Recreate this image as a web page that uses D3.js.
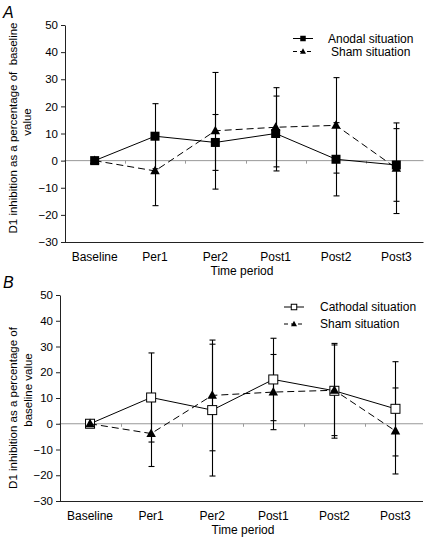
<!DOCTYPE html>
<html>
<head>
<meta charset="utf-8">
<script src="https://cdn.jsdelivr.net/npm/d3@7"></script>
<style>
  html, body { margin: 0; padding: 0; background: #fff; }
  svg { display: block; font-family: "Liberation Sans", Arial, sans-serif; }
</style>
</head>
<body>
<svg id="chart" width="427" height="539"></svg>
<script>
// ---- data ----
const categories = ["Baseline", "Per1", "Per2", "Post1", "Post2", "Post3"];
const yTicks = [-30, -20, -10, 0, 10, 20, 30, 40, 50];

const anodalMean = [0, 9, 6.7, 10, 0.5, -1.6];
const anodalErr  = [0, 12, 10.3, 13.8, 13.5, 13.4];

const shamMean   = [0, -3.8, 11, 12.3, 13, -2.8];
const shamErr    = [0, 12.8, 21.5, 14.6, 17.6, 16.7];

const cathodalMean = [0, 10.2, 5.3, 17.2, 12.8, 5.8];
const cathodalErr  = [0, 17.3, 25.6, 16, 18.4, 18.3];

const panelLabels = ["A", "B"];
const xTitle = "Time period";
const yTitleA = ["D1 inhibition as a percentage of  baseline", "value"];
const yTitleB = ["D1 inhibition as a percentage of", "baseline value"];
const legendA = ["Anodal situation", "Sham situation"];
const legendB = ["Cathodal situation", "Sham situation"];

// ---- drawing ----
const svg = d3.select("#chart");

function marker(g, type, cx, cy, size) {
  if (type === "square") {
    g.append("rect").attr("x", cx - size / 2).attr("y", cy - size / 2)
      .attr("width", size).attr("height", size).attr("fill", "#000");
  } else if (type === "open") {
    g.append("rect").attr("x", cx - size / 2).attr("y", cy - size / 2)
      .attr("width", size).attr("height", size).attr("fill", "#fff")
      .attr("stroke", "#000").attr("stroke-width", 1);
  } else {
    const h = size * 0.9;
    g.append("path")
      .attr("d", `M${cx},${cy - h * 0.6}L${cx + size / 2},${cy + h * 0.4}L${cx - size / 2},${cy + h * 0.4}Z`)
      .attr("fill", "#000");
  }
}

function drawPanel(p) {
  const g = svg.append("g");
  const x = d3.scaleBand().domain(categories).range([p.left, p.right]).paddingInner(0).paddingOuter(0);
  const y = d3.scaleLinear().domain([-30, 50]).range([p.bottom, p.top]);

  // panel letter
  g.append("text").attr("x", 3).attr("y", p.letterY).attr("font-size", 16)
    .attr("font-style", "italic").attr("fill", "#000").text(p.letter);

  // zero line (category axis crossing) with ticks at band boundaries
  const zy = y(0);
  g.append("line").attr("x1", p.left).attr("x2", p.right - 3)
    .attr("y1", zy).attr("y2", zy).attr("stroke", "#999").attr("stroke-width", 1);
  categories.forEach((c, i) => {
    if (i === 0) return;
    const bx = Math.round(x(c)) + 0.5;
    g.append("line").attr("x1", bx).attr("x2", bx).attr("y1", zy).attr("y2", zy + 3)
      .attr("stroke", "#999");
  });

  // bottom line
  g.append("line").attr("x1", p.left).attr("x2", p.right - 3)
    .attr("y1", p.bottom + 0.5).attr("y2", p.bottom + 0.5).attr("stroke", "#222").attr("stroke-width", 1);

  // y axis
  const ya = g.append("g").attr("transform", `translate(${p.left + 0.5},0)`)
    .call(d3.axisLeft(y).tickValues(yTicks).tickSize(4).tickPadding(3).tickSizeOuter(0));
  ya.select(".domain").attr("stroke", "#222");
  ya.selectAll(".tick line").attr("stroke", "#222");
  ya.selectAll("text").attr("font-size", 11.5).attr("fill", "#000")
    .attr("font-family", "Liberation Sans, Arial, sans-serif");

  // category labels
  g.append("g").selectAll("text").data(categories).join("text")
    .attr("x", d => x(d) + x.bandwidth() / 2).attr("y", p.bottom + 19)
    .attr("text-anchor", "middle").attr("font-size", 12).attr("fill", "#000").text(d => d);

  // x title
  g.append("text").attr("x", p.xTitleX).attr("y", p.bottom + 33)
    .attr("text-anchor", "middle").attr("font-size", 12).attr("fill", "#000").text(xTitle);

  // y title lines
  p.yTitle.forEach((t, i) => {
    const pos = p.yTitlePos[i];
    g.append("text").attr("transform", `translate(${pos[0]},${pos[1]}) rotate(-90)`)
      .attr("text-anchor", "middle").attr("dy", "0.35em").attr("font-size", 11.5)
      .style("white-space", "pre").attr("fill", "#000").text(t);
  });

  const cx = d => x(d) + x.bandwidth() / 2;

  // error bars
  p.series.forEach(s => {
    const eg = g.append("g");
    categories.forEach((c, i) => {
      if (s.err[i] <= 0) return;
      const xx = Math.round(cx(c)) + 0.5;
      const y1 = y(s.mean[i] + s.err[i]), y2 = y(s.mean[i] - s.err[i]);
      eg.append("line").attr("x1", xx).attr("x2", xx).attr("y1", y1).attr("y2", y2)
        .attr("stroke", "#000").attr("stroke-width", 1.1);
      [y1, y2].forEach(yy => eg.append("line").attr("x1", xx - 3).attr("x2", xx + 3)
        .attr("y1", yy).attr("y2", yy).attr("stroke", "#000").attr("stroke-width", 1.1));
    });
  });

  // lines and markers
  p.series.forEach(s => {
    const line = d3.line().x((d, i) => cx(categories[i])).y(d => y(d));
    g.append("path").datum(s.mean).attr("d", line).attr("fill", "none")
      .attr("stroke", "#000").attr("stroke-width", 1)
      .attr("stroke-dasharray", s.dash ? "7,4" : null);
    const mg = g.append("g");
    s.mean.forEach((v, i) => marker(mg, s.marker, cx(categories[i]), y(v), s.marker === "tri" ? 9.5 : 9));
  });

  // legend
  p.legend.forEach((l, i) => {
    const s = p.series.find(ss => ss.name === l.name);
    const ly = l.y;
    g.append("line").attr("x1", p.legendX).attr("x2", p.legendX + 20).attr("y1", ly).attr("y2", ly)
      .attr("stroke", "#000").attr("stroke-dasharray", s.dash ? "4,3" : null);
    marker(g, s.marker, p.legendX + 10, ly, s.marker === "tri" ? 6 : 5.5);
    g.append("text").attr("x", l.tx).attr("y", ly).attr("dy", "0.35em")
      .attr("font-size", 12).attr("fill", "#000").text(l.label);
  });
}

drawPanel({
  letter: panelLabels[0], letterY: 18,
  left: 64.5, right: 426.5, top: 25, bottom: 242,
  xTitleX: 242,
  yTitle: yTitleA, yTitlePos: [[13, 128], [27, 122]],
  legendX: 293,
  series: [
    { name: "sham", mean: shamMean, err: shamErr, marker: "tri", dash: true },
    { name: "anodal", mean: anodalMean, err: anodalErr, marker: "square", dash: false }
  ],
  legend: [
    { name: "anodal", label: legendA[0], y: 38.5, tx: 328 },
    { name: "sham", label: legendA[1], y: 51.5, tx: 331 }
  ]
});

drawPanel({
  letter: panelLabels[1], letterY: 288,
  left: 59.5, right: 426, top: 295, bottom: 501,
  xTitleX: 243,
  yTitle: yTitleB, yTitlePos: [[13, 408], [28, 390]],
  legendX: 284,
  series: [
    { name: "cathodal", mean: cathodalMean, err: cathodalErr, marker: "open", dash: false },
    { name: "sham", mean: shamMean, err: shamErr, marker: "tri", dash: true }
  ],
  legend: [
    { name: "cathodal", label: legendB[0], y: 307, tx: 320 },
    { name: "sham", label: legendB[1], y: 324, tx: 320 }
  ]
});
</script>
</body>
</html>
